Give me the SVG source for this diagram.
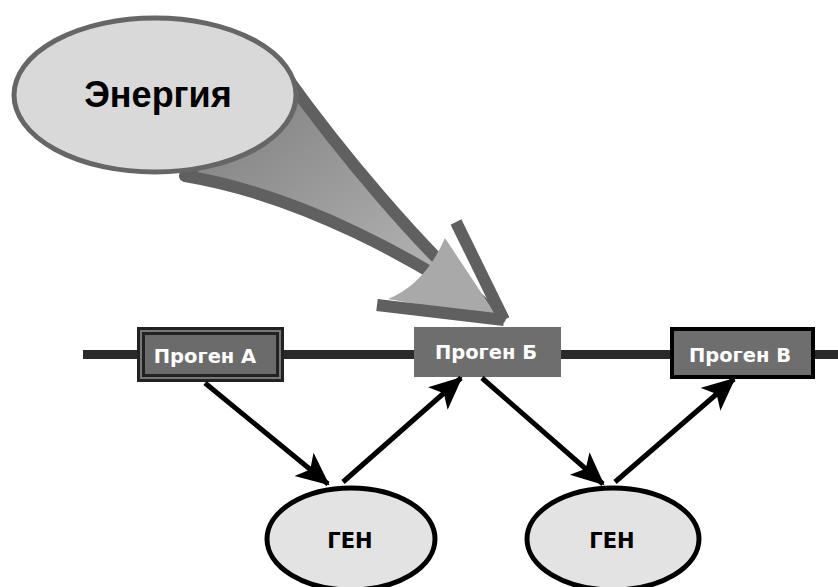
<svg xmlns="http://www.w3.org/2000/svg" width="838" height="587" viewBox="0 0 838 587">
<defs>
<linearGradient id="tailg" x1="0" y1="0" x2="1" y2="1">
<stop offset="0" stop-color="#7a7a7a"/>
<stop offset="1" stop-color="#c0c0c0"/>
</linearGradient>
<marker id="ah" markerUnits="userSpaceOnUse" markerWidth="36" markerHeight="32" refX="31" refY="15" orient="auto">
<path d="M0,0 L33,15 L0,30 L8,15 Z" fill="#000"/>
</marker>
<style>
.lbl{font-family:"DejaVu Sans",Verdana,sans-serif;font-weight:bold;fill:#fff;font-size:19.5px}
.gen{font-family:"DejaVu Sans",Verdana,sans-serif;font-weight:bold;fill:#000;font-size:21px}
.conn{stroke:#000;stroke-width:5;fill:none;marker-end:url(#ah)}
.gell{fill:#e3e3e3;stroke:#000;stroke-width:5}
</style>
</defs>
<rect width="838" height="587" fill="#fff"/>
<g id="energy">
<path d="M285,75 C335,145 420,250 500,318 C420,260 300,195 185,176 Z" fill="url(#tailg)" stroke="#606060" stroke-width="12" stroke-linejoin="round"/>
<path d="M388,299 Q425,284 445,238 L498,318 Z" fill="#a9a9a9"/>
<line x1="456" y1="222" x2="504" y2="320" stroke="#606060" stroke-width="12"/>
<line x1="377" y1="305" x2="504" y2="320" stroke="#606060" stroke-width="12"/>
<ellipse cx="155" cy="95" rx="141" ry="77" fill="#d9d9d9" stroke="#666" stroke-width="5"/>
<text x="158" y="107" font-family="Liberation Sans,Arial,sans-serif" font-weight="bold" font-size="36" text-anchor="middle" fill="#000">Энергия</text>
</g>
<g id="dna">
<line x1="83" y1="354.5" x2="838" y2="354.5" stroke="#2a2a2a" stroke-width="9"/>
</g>
<g id="progenA">
<rect x="137" y="327" width="147" height="55" fill="#222"/>
<rect x="140" y="330" width="141" height="49" fill="#777"/>
<rect x="142" y="332" width="137" height="45" fill="#222"/>
<rect x="145" y="335" width="131" height="39" fill="#6b6b6b"/>
<text x="205" y="363" class="lbl" text-anchor="middle">Проген А</text>
</g>
<g id="progenB">
<rect x="414" y="327" width="147" height="50" fill="#6e6e6e"/>
<text x="486" y="359" class="lbl" text-anchor="middle">Проген Б</text>
</g>
<g id="progenV">
<rect x="672" y="329" width="141" height="48" fill="#6e6e6e" stroke="#000" stroke-width="4"/>
<text x="740" y="362" class="lbl" text-anchor="middle">Проген В</text>
</g>
<g id="gen1">
<ellipse cx="351" cy="539" rx="84" ry="51" class="gell"/>
<text x="350" y="548" class="gen" text-anchor="middle">ГЕН</text>
</g>
<g id="gen2">
<ellipse cx="613" cy="539" rx="86" ry="51" class="gell"/>
<text x="612" y="548" class="gen" text-anchor="middle">ГЕН</text>
</g>
<g id="connectors">
<line x1="205" y1="383" x2="328" y2="484" class="conn"/>
<line x1="343" y1="482" x2="461" y2="378" class="conn"/>
<line x1="482" y1="378" x2="603" y2="484" class="conn"/>
<line x1="615" y1="482" x2="734" y2="379" class="conn"/>
</g>
</svg>
